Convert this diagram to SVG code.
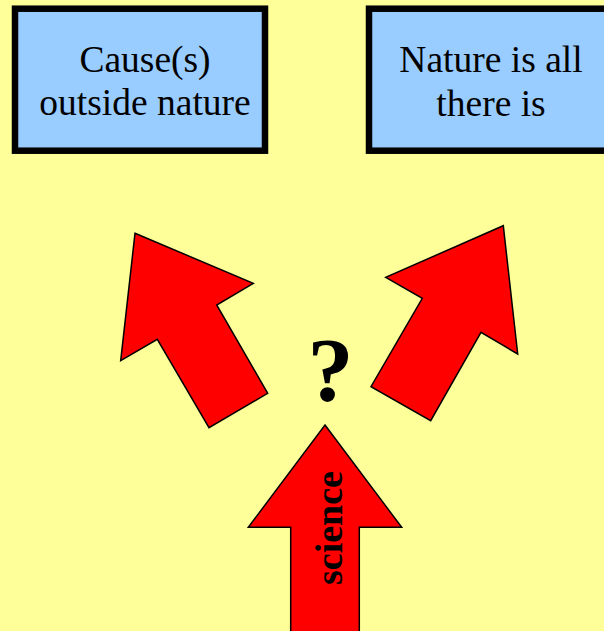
<svg xmlns="http://www.w3.org/2000/svg" width="604" height="631" viewBox="0 0 604 631">
<style>
.box{fill:#99CCFF;stroke:#000;stroke-width:6.5}
.lbl{font-size:37.5px;font-weight:normal;font-style:normal;fill:#000;text-anchor:middle}
.arrow{fill:#FF0000;stroke:#000;stroke-width:1.5;stroke-linejoin:miter}
.bold{font-weight:bold;fill:#000;text-anchor:middle}
</style>
<rect width="604" height="631" fill="#FFFF99"/>
<g id="node-cause" font-family="'Liberation Serif', 'DejaVu Serif', serif">
<rect class="box" x="15" y="8.7" width="250" height="142"/>
<text class="lbl" x="145" y="72">Cause(s)</text>
<text class="lbl" x="145" y="115">outside nature</text>
</g>
<g id="node-nature" font-family="'Liberation Serif', 'DejaVu Serif', serif">
<rect class="box" x="369" y="8.7" width="250" height="142"/>
<text class="lbl" x="491" y="72">Nature is all</text>
<text class="lbl" x="491" y="116">there is</text>
</g>
<g id="connectors">
<polygon class="arrow" points="135,233.3 253.3,283.3 216.7,305 267.7,393.3 209,427.7 157.3,339.3 120.7,360.7"/>
<polygon class="arrow" points="503.3,225.7 517.7,354 481,332.3 430.7,420.7 371,386.7 422.3,298.3 385.7,277.3"/>
<polygon class="arrow" points="325,425 401.7,527.3 359.3,527.3 359.3,632 290.7,632 290.7,527.3 248.3,527.3"/>
</g>
<g id="question" font-family="'Liberation Serif', 'DejaVu Serif', serif">
<text class="bold" x="330.5" y="401" font-size="92">?</text>
</g>
<g id="science-label" font-family="'Liberation Serif', 'DejaVu Serif', serif">
<text class="bold" font-size="38" transform="translate(342,528) rotate(-90)">science</text>
</g>
</svg>
